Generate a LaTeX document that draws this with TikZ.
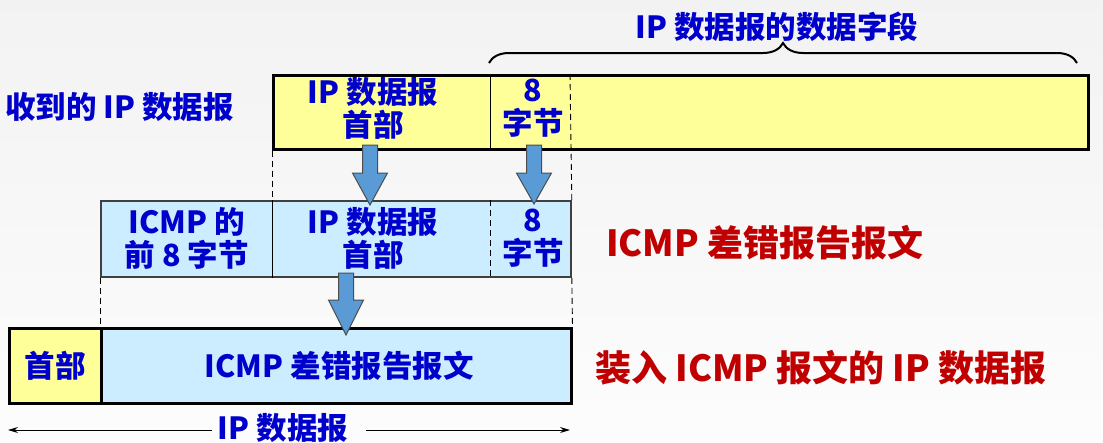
\documentclass[tikz,border=0pt]{standalone}
\usepackage{fontspec}
\setmainfont{Noto Sans CJK SC}
\usetikzlibrary{positioning,arrows.meta,decorations.pathreplacing,calc}
\definecolor{icmpBlue}{HTML}{0000CC}
\definecolor{icmpRed}{HTML}{C00000}
\definecolor{cellYellow}{HTML}{FFFF99}
\definecolor{cellCyan}{HTML}{CCECFF}
\definecolor{arrowFill}{HTML}{5B9BD5}
\tikzset{
  cellbox/.style={anchor=north west, inner sep=0pt, line width=2.5pt, draw=black},
  celltxt/.style={font=\fontsize{30.5}{33}\selectfont\bfseries, text=icmpBlue, align=center, inner sep=0pt},
  bigtxt/.style={font=\fontsize{36}{40}\selectfont\bfseries, text=icmpRed, inner sep=0pt, anchor=west},
  guide/.style={dash pattern=on 6pt off 4pt, line width=0.9pt},
  blockarrow/.style={fill=arrowFill, draw=black!70, line width=1pt},
}
\begin{document}
\begin{tikzpicture}[x=1pt,y=-1pt]
  \useasboundingbox (0,0) rectangle (1103,442);
  \shade[top color=black!5, bottom color=black!1] (0,0) rectangle (1103,442);
  % received datagram
  \node[cellbox, fill=cellYellow, minimum width=815pt, minimum height=74pt] (recv) at (272,74) {};
  \draw[line width=1pt] ($(recv.north west)+(218,0)$) -- ($(recv.south west)+(218,0)$);
  \node[celltxt, anchor=west] (recvlbl) at (5,107) {收到的 IP 数据报};
  \node[celltxt] (recvhdr) at (373,108) {IP 数据报\\首部};
  \node[celltxt] (recveight) at (533,108) {8\\字节};
  \draw[decorate, decoration={brace, amplitude=20pt}, line width=2pt] (489,63) -- (1077,63);
  \node[celltxt] (datafield) at (777,27) {IP 数据报的数据字段};
  % ICMP error message
  \node[cellbox, fill=cellCyan, draw=black!75, line width=1.8pt, minimum width=470pt, minimum height=76pt] (icmpmsg) at (100,200) {};
  \draw[line width=1pt] ($(icmpmsg.north west)+(172,0)$) -- ($(icmpmsg.south west)+(172,0)$);
  \draw[guide] ($(icmpmsg.north west)+(390,0)$) -- ($(icmpmsg.south west)+(390,0)$);
  \node[celltxt] (icmpfirst) at (187,238) {ICMP 的\\前 8 字节};
  \node[celltxt] (icmphdr) at (373,238) {IP 数据报\\首部};
  \node[celltxt] (icmpeight) at (533,238) {8\\字节};
  \node[bigtxt] (icmpname) at (606,243) {ICMP 差错报告报文};
  % IP datagram carrying ICMP
  \node[cellbox, fill=cellYellow, minimum width=92pt, minimum height=75pt] (outhdr) at (8,327) {};
  \node[cellbox, fill=cellCyan, minimum width=470pt, minimum height=75pt] (outmsg) at (100,327) {};
  \node[celltxt] at (outhdr.center) {首部};
  \node[celltxt] at ($(outmsg.center)+(3,0)$) {ICMP 差错报告报文};
  \node[bigtxt] (outname) at (595,368) {装入 ICMP 报文的 IP 数据报};
  % dashed guides
  \draw[guide] (recv.south west) -- (icmpmsg.north west -| recv.south west);
  \draw[guide] ($(recv.north west)+(298,0)$) -- (icmpmsg.north east);
  \draw[guide] (icmpmsg.south west) -- (outmsg.north west);
  \draw[guide] (icmpmsg.south east) -- (outmsg.north east);
  % block arrows
  \foreach \x/\a/\b/\c in {370/145/173/205, 534/145/173/204, 346/273/300/335}
    {\draw[blockarrow] (\x-7.5,\a) -- (\x+7.5,\a) -- (\x+7.5,\b) -- (\x+17.5,\b)
       -- (\x,\c) -- (\x-17.5,\b) -- (\x-7.5,\b) -- cycle;}
  % length of the datagram
  \node[celltxt] (iplen) at (283,428) {IP 数据报};
  \coordinate (lenL) at (8,430);
  \coordinate (lenR) at (570,430);
  \draw[line width=1pt, -{Stealth[length=10pt,width=6pt]}] ($(iplen.west)+(-6,2)$) -- (lenL);
  \draw[line width=1pt, -{Stealth[length=10pt,width=6pt]}] ($(iplen.east)+(18,2)$) -- (lenR);
\end{tikzpicture}
\end{document}
